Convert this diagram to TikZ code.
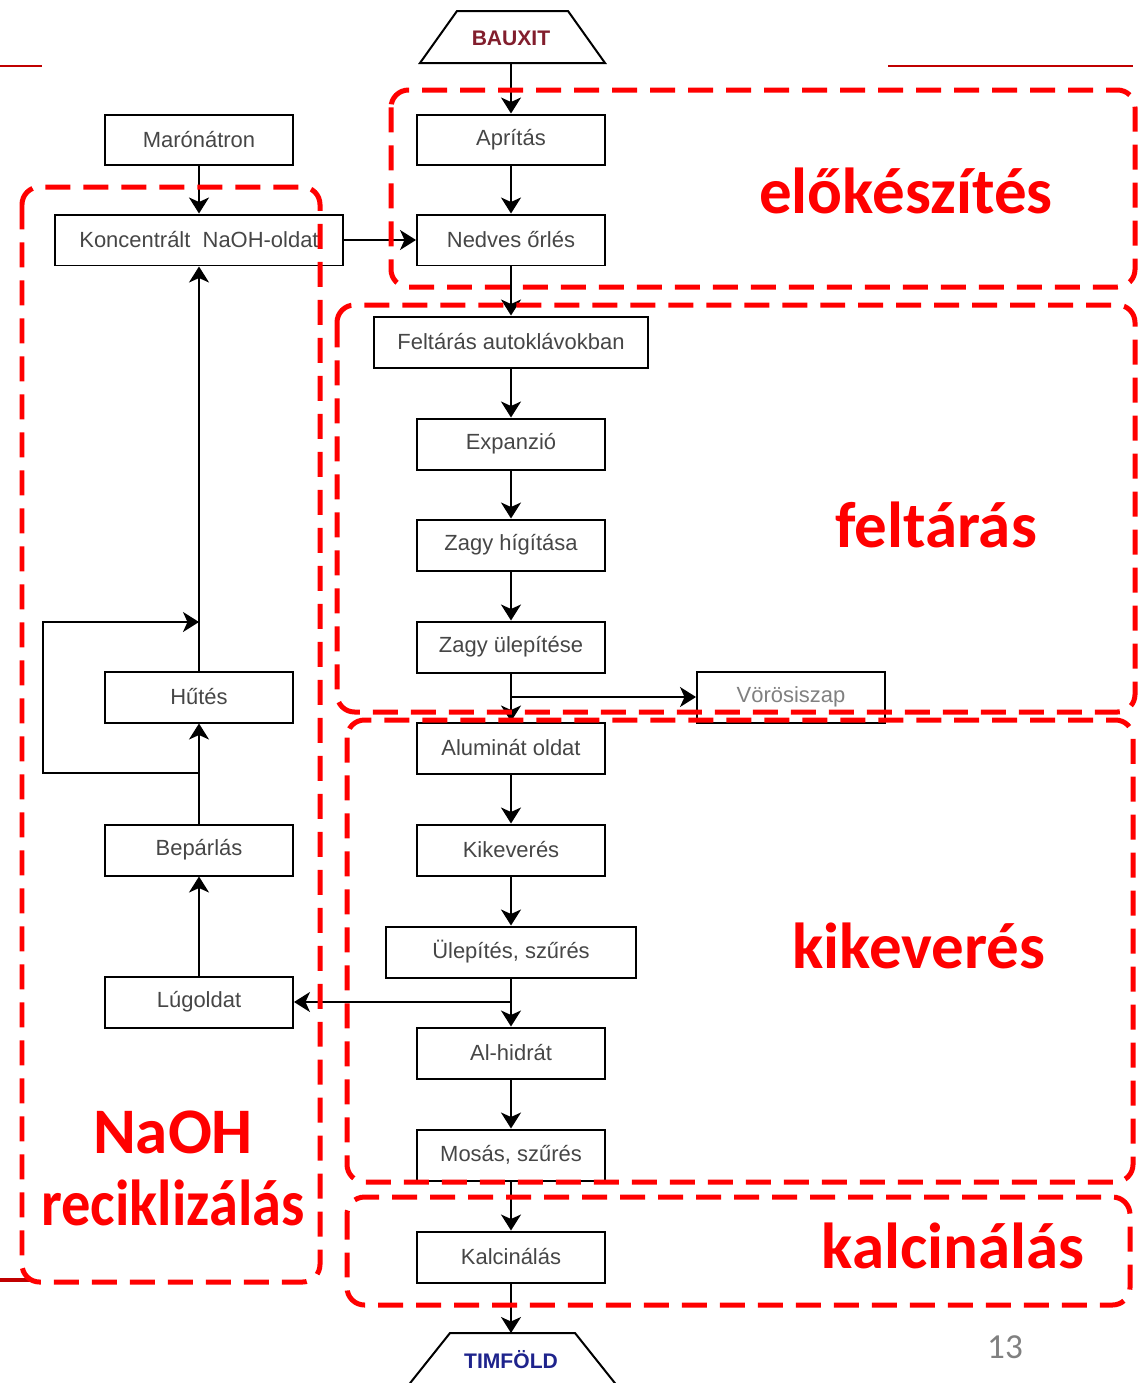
\documentclass[tikz,border=0pt]{standalone}
\usepackage{fontspec}
\setmainfont{Liberation Sans}
\newfontfamily\calib{Carlito}
\usetikzlibrary{arrows.meta,calc}
\definecolor{redd}{RGB}{255,0,0}
\definecolor{darkr}{RGB}{192,0,0}
\definecolor{txt}{RGB}{70,70,70}
\definecolor{bauxc}{RGB}{130,30,45}
\definecolor{timc}{RGB}{30,35,140}
\begin{document}
\begin{tikzpicture}[x=0.02cm,y=-0.02cm,
 box/.style={draw=black, line width=0.04cm, minimum width=3.76cm, minimum height=1.02cm, inner sep=0pt, text=txt, font=\fontsize{12.5}{15}\selectfont},
 flow/.style={line width=0.04cm, -{Stealth[length=0.32cm,width=0.4cm,inset=0.09cm]}},
 plain/.style={line width=0.04cm},
 region/.style={draw=redd, line width=0.1cm, dash pattern=on 0.5cm off 0.26cm, rounded corners=0.35cm},
 biglabel/.style={text=redd, font=\calib\bfseries\fontsize{37}{44}\selectfont, anchor=base, inner sep=0pt},
]
\useasboundingbox (0,0) rectangle (1145,1383);
\clip (0,0) rectangle (1145,1383);

% top trapezoid
\draw[plain] (457,11) -- (568,11) -- (605,63) -- (420,63) -- cycle;
\node[text=bauxc, font=\bfseries\fontsize{12}{14}\selectfont] (bauxit) at (511,38) {BAUXIT};
\coordinate (bauxb) at (511,63);

% bottom trapezoid
\draw[plain] (450,1333) -- (575,1333) -- (622,1392) -- (403,1392) -- cycle;
\node[text=timc, font=\bfseries\fontsize{12}{14}\selectfont] (timfold) at (511,1360) {TIMFÖLD};
\coordinate (timt) at (511,1333);

% main column
\node[box] (apr) at (511,140) {Aprítás};
\node[box] (nedves) at (511,240) {Nedves őrlés};
\node[box, minimum width=5.5cm] (felt) at (511,342) {Feltárás autoklávokban};
\node[box] (exp) at (511,444) {Expanzió};
\node[box] (zhig) at (511,545) {Zagy hígítása};
\node[box] (zul) at (511,647) {Zagy ülepítése};
\node[box, text=gray] (voros) at (791,697) {Vörösiszap};
\node[box] (alum) at (511,748) {Aluminát oldat};
\node[box] (kik) at (511,850) {Kikeverés};
\node[box, minimum width=5.0cm] (ulep) at (511,952) {Ülepítés, szűrés};
\node[box] (alh) at (511,1053) {Al-hidrát};
\node[box] (mos) at (511,1155) {Mosás, szűrés};
\node[box] (kalc) at (511,1257) {Kalcinálás};

% left column
\node[box] (maro) at (199,140) {Marónátron};
\node[box, minimum width=5.76cm] (konc) at (199,240) {Koncentrált\ \ NaOH-oldat};
\node[box] (hutes) at (199,697) {Hűtés};
\node[box] (bep) at (199,850) {Bepárlás};
\node[box] (lug) at (199,1002) {Lúgoldat};

% connectors main
\draw[flow] (bauxb) -- (apr.north);
\draw[flow] (apr.south) -- (nedves.north);
\draw[flow] (nedves.south) -- (felt.north);
\draw[flow] (felt.south) -- (exp.north);
\draw[flow] (exp.south) -- (zhig.north);
\draw[flow] (zhig.south) -- (zul.north);
\draw[flow] (zul.south) -- (alum.north);
\draw[flow] (zul.south |- voros.west) -- (voros.west);
\draw[flow] (alum.south) -- (kik.north);
\draw[flow] (kik.south) -- (ulep.north);
\draw[flow] (ulep.south) -- (alh.north);
\draw[flow] (ulep.south |- lug.east) -- (lug.east);
\draw[flow] (alh.south) -- (mos.north);
\draw[flow] (mos.south) -- (kalc.north);
\draw[flow] (kalc.south) -- (timt);

% connectors left
\draw[flow] (maro.south) -- (konc.north);
\draw[flow] (konc.east) -- (nedves.west);
\draw[flow] (lug.north) -- (bep.south);
\draw[flow] (bep.north) -- (hutes.south);
\draw[flow] (hutes.north) -- (konc.south);
\coordinate (loops) at (199,773);
\coordinate (loopl) at (43,773);
\coordinate (loope) at (199,622);
\draw[flow] (loops) -- (loopl) |- (loope);

% thin dark red lines
\draw[darkr, line width=0.04cm] (0,66) -- (42,66);
\draw[darkr, line width=0.04cm] (888,66) -- (1133,66);
\draw[darkr, line width=0.09cm] (0,1280) -- (30,1280);

% red regions
\draw[region] (391,90) rectangle (1135,287);
\draw[region] (337,305) rectangle (1135,712);
\draw[region] (347,720) rectangle (1133,1182);
\draw[region] (347,1197) rectangle (1130,1305);
\draw[region] (22,187) rectangle (320,1282);

% labels
\node[biglabel] (l1) at (906,213) {előkészítés};
\node[biglabel] (l2) at (936,547) {feltárás};
\node[biglabel] (l3) at (919,968) {kikeverés};
\node[biglabel] (l4) at (953,1268) {kalcinálás};
\node[biglabel] (l5) at (173,1153) {NaOH};
\node[biglabel] (l6) at (173,1225) {\scalebox{0.9}[1]{reciklizálás}};

\node[text=gray, font=\calib\fontsize{20}{24}\selectfont] (pg) at (1005,1347) {13};
\end{tikzpicture}
\end{document}
